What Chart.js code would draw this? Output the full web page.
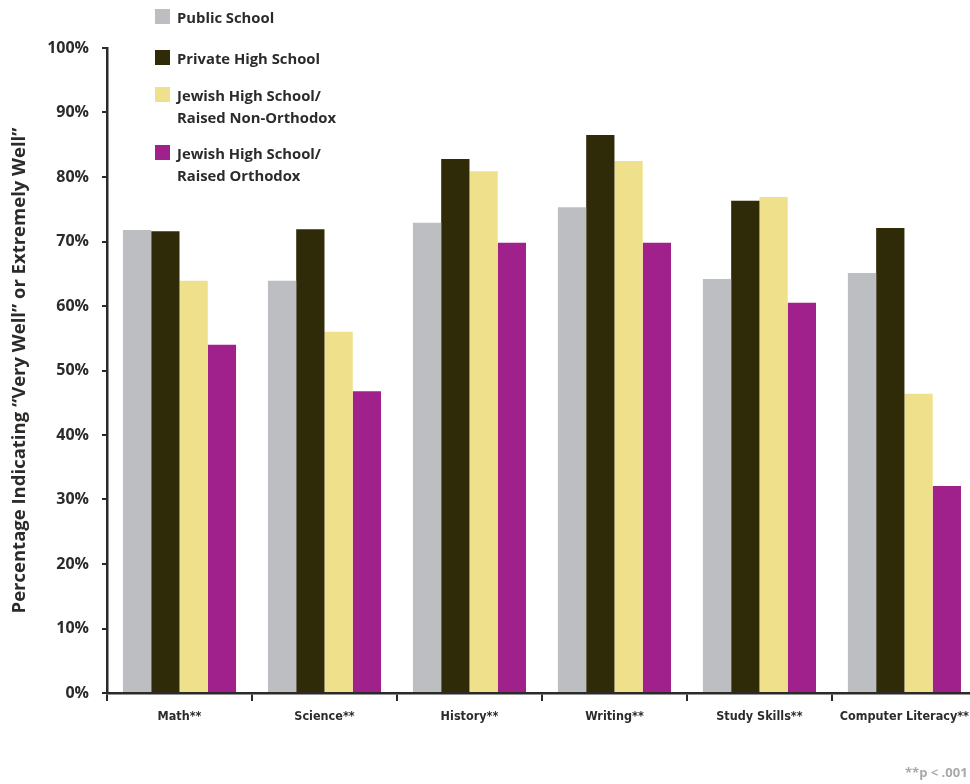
<!DOCTYPE html>
<html>
<head>
<meta charset="utf-8">
<script src="https://cdn.jsdelivr.net/npm/chart.js@4.4.1/dist/chart.umd.min.js"></script>
<style>
  html, body { margin: 0; padding: 0; background: #fff; overflow: hidden; }
  #wrap { position: relative; width: 977px; height: 784px; }
  #legend { position: absolute; left: 155px; top: 0; font-family: "Open Sans", sans-serif; font-weight: 700; font-size: 14.8px; color: #2d2b29; }
  .item { position: absolute; left: 0; white-space: nowrap; }
  .sw { position: absolute; left: 0; top: 0; width: 15px; height: 15px; }
  .txt { position: absolute; left: 22px; top: -3px; line-height: 22px; }
  #note { position: absolute; left: 905px; top: 763px; font-family: "Open Sans", sans-serif; font-weight: 700; font-size: 13px; color: #a9a9a9; white-space: nowrap; }
</style>
</head>
<body>
<div id="wrap">
  <canvas id="myChart"></canvas>
  <div id="legend"></div>
  <div id="note">**p &lt; .001</div>
</div>
<script>
// categories and series (percent)
const categories = ['Math**', 'Science**', 'History**', 'Writing**', 'Study Skills**', 'Computer Literacy**'];
const seriesNames = [
    ['Public School'],
    ['Private High School'],
    ['Jewish High School/', 'Raised Non-Orthodox'],
    ['Jewish High School/', 'Raised Orthodox'],
];
const publicSchool = [71.8, 63.9, 72.9, 75.3, 64.2, 65.1];
const privateHigh = [71.6, 71.9, 82.8, 86.5, 76.3, 72.1];
const jewishNonOrthodox = [63.9, 56.0, 80.9, 82.5, 76.9, 46.4];
const jewishOrthodox = [54.0, 46.8, 69.8, 69.8, 60.5, 32.1];
const yTicks = [0, 10, 20, 30, 40, 50, 60, 70, 80, 90, 100];

const colors = ['#bdbec2', '#2f2a07', '#efe18b', '#a0208c'];
const seriesValues = [publicSchool, privateHigh, jewishNonOrthodox, jewishOrthodox];
const axisColor = '#2b2a28';
const textColor = '#2d2b29';

// legend (html, top of the picture)
const legendTops = [9, 50, 87, 145];
const legendEl = document.getElementById('legend');
seriesNames.forEach((name, i) => {
    const item = document.createElement('div');
    item.className = 'item';
    item.style.top = legendTops[i] + 'px';
    item.innerHTML = '<div class="sw" style="background:' + colors[i] + '"></div>' +
        '<div class="txt">' + name.join('<br>') + '</div>';
    legendEl.appendChild(item);
});

const ctx = document.getElementById('myChart').getContext('2d');

new Chart(ctx, {
    type: 'bar',
    data: {
        labels: categories,
        datasets: seriesValues.map((vals, i) => ({
            label: seriesNames[i].join(' '),
            data: vals,
            backgroundColor: colors[i],
            borderWidth: 0,
            categoryPercentage: 0.78,
            barPercentage: 1.0,
        })),
    },
    options: {
        responsive: true,
        maintainAspectRatio: false,
        animation: false,
        layout: { padding: { left: 9, right: 0, top: 48, bottom: 0 } },
        plugins: {
            legend: { display: false },
            tooltip: { enabled: false },
        },
        scales: {
            x: {
                grid: {
                    offset: true,
                    drawOnChartArea: false,
                    drawTicks: true,
                    tickLength: 8,
                    color: axisColor,
                    lineWidth: 2,
                },
                border: { display: true, color: axisColor, width: 2.5 },
                ticks: {
                    color: textColor,
                    padding: 8,
                    font: { family: '"DejaVu Sans Condensed", "Liberation Sans Narrow", sans-serif', size: 12.5, weight: 'bold' },
                    maxRotation: 0,
                    autoSkip: false,
                },
                afterFit: (scale) => { scale.height = 91; },
            },
            y: {
                min: 0,
                max: 100,
                afterBuildTicks: (scale) => { scale.ticks = yTicks.map(v => ({ value: v })); },
                grid: {
                    drawOnChartArea: false,
                    drawTicks: true,
                    tickLength: 5,
                    color: axisColor,
                    lineWidth: 2,
                },
                border: { display: true, color: axisColor, width: 2.5 },
                ticks: {
                    color: textColor,
                    padding: 13,
                    callback: (v) => v + '%',
                    font: { family: '"Open Sans", sans-serif', size: 16, weight: 'bold' },
                },
                title: {
                    display: true,
                    text: 'Percentage Indicating \u201CVery Well\u201D or Extremely Well\u201D',
                    color: textColor,
                    padding: 0,
                    font: { family: '"Open Sans", sans-serif', size: 18.5, weight: 'bold' },
                },
                afterFit: (scale) => { scale.width = 98; },
            },
        },
    },
});
</script>
</body>
</html>
